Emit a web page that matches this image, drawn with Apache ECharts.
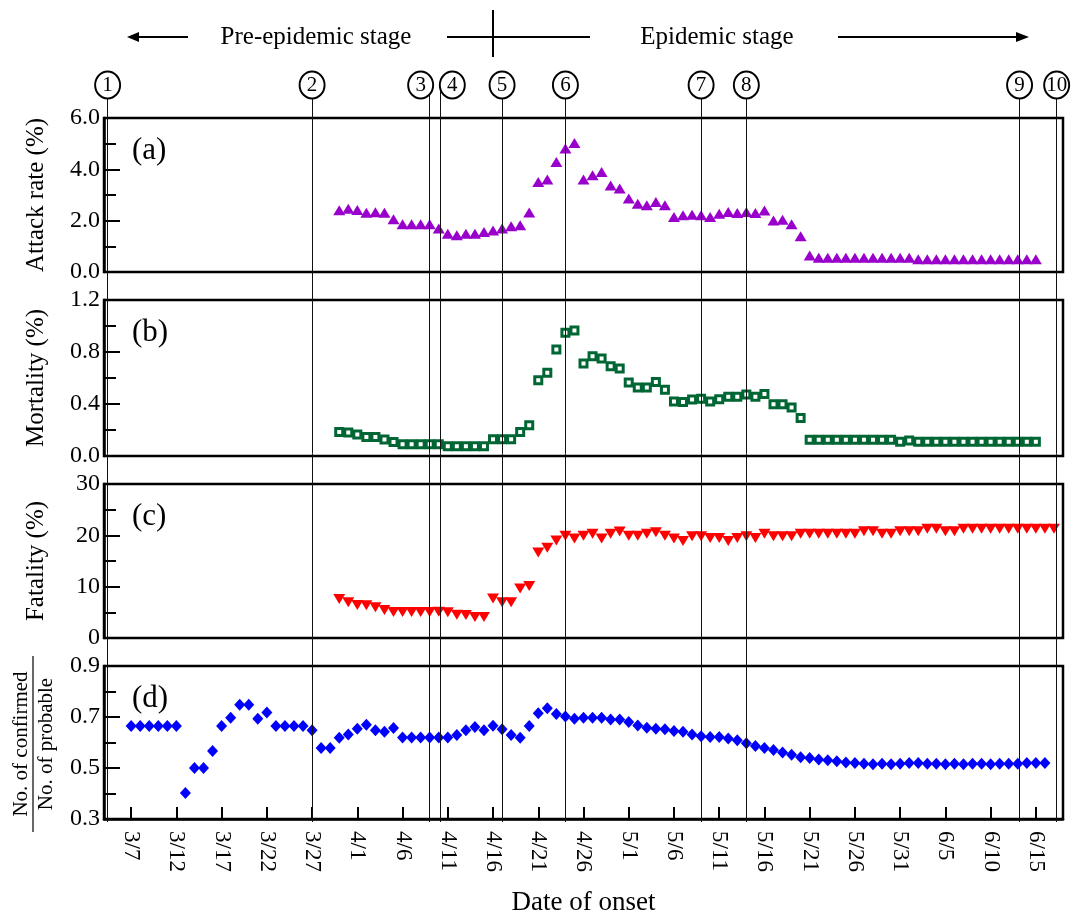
<!DOCTYPE html>
<html>
<head>
<meta charset="utf-8">
<script src="https://cdn.jsdelivr.net/npm/echarts@6/dist/echarts.min.js"></script>
<style>html,body{margin:0;padding:0;background:#fff;}#c{width:1072px;height:917px;}</style>
</head>
<body>
<div id="c"></div>
<script>
// ---- data (day 0 = 3/7) ----
const tickDays = [0,5,10,15,20,25,30,35,40,45,50,55,60,65,70,75,80,85,90,95,100];
const tickLabels = ['3/7','3/12','3/17','3/22','3/27','4/1','4/6','4/11','4/16','4/21','4/26','5/1','5/6','5/11','5/16','5/21','5/26','5/31','6/5','6/10','6/15'];

const attackStart = 23;
const attackRate = [2.41,2.46,2.42,2.31,2.33,2.31,2.06,1.86,1.86,1.86,1.86,1.69,1.49,1.43,1.49,1.49,1.56,1.62,1.69,1.78,1.82,2.32,3.51,3.6,4.29,4.81,5.03,3.6,3.77,3.9,3.37,3.25,2.86,2.66,2.6,2.73,2.6,2.14,2.21,2.23,2.21,2.14,2.27,2.34,2.3,2.34,2.3,2.4,2.01,2.04,1.86,1.39,0.64,
  0.56,0.56,0.56,0.56,0.56,0.56,0.56,0.56,0.56,0.56,0.56,
  0.5,0.5,0.5,0.5,0.5,0.5,0.5,0.5,0.5,0.5,0.5,0.5,0.5,0.5];

const mortalityStart = 23;
const mortality = [0.185,0.18,0.165,0.146,0.146,0.126,0.108,0.09,0.09,0.09,0.09,0.09,0.075,0.075,0.075,0.075,0.075,0.129,0.129,0.129,0.185,0.237,0.583,0.64,0.82,0.948,0.966,0.712,0.768,0.75,0.69,0.673,0.565,0.527,0.527,0.57,0.51,0.42,0.416,0.434,0.44,0.42,0.436,0.455,0.455,0.473,0.455,0.476,0.398,0.398,0.373,0.293,
  0.125,0.125,0.125,0.125,0.125,0.125,0.125,0.125,0.125,0.125,0.11,0.12,
  0.11,0.11,0.11,0.11,0.11,0.11,0.11,0.11,0.11,0.11,0.11,0.11,0.11,0.11];

const fatalityStart = 23;
const fatality = [7.6,6.97,6.45,6.4,6.0,5.47,5.08,5.08,5.08,5.08,5.08,5.1,5.0,4.53,4.5,4.1,4.1,7.68,6.97,6.97,9.64,10.12,16.67,17.57,18.97,19.9,19.4,19.9,20.3,19.4,20.3,20.77,19.9,19.9,20.3,20.6,19.9,19.4,18.9,19.8,19.8,19.5,19.5,18.9,19.5,19.8,19.5,20.3,19.8,19.8,19.8,20.3,20.3,20.3,20.3,20.3,20.3,20.3,20.8,20.8,20.3,20.3,20.8,20.8,20.8,21.3,21.3,20.8,20.8,
  21.3,21.3,21.3,21.3,21.3,21.3,21.3,21.3,21.3,21.3,21.3];

const ratioStart = 0;
const ratio = [0.665,0.665,0.665,0.665,0.665,0.665,0.402,0.5,0.5,0.567,0.665,0.697,0.748,0.748,0.693,0.718,0.665,0.665,0.665,0.665,0.648,0.578,0.578,0.619,0.631,0.654,0.67,0.648,0.642,0.657,0.62,0.62,0.62,0.62,0.62,0.62,0.629,0.648,0.661,0.648,0.666,0.652,0.629,0.619,0.665,0.715,0.734,0.712,0.702,0.693,0.697,0.697,0.697,0.69,0.69,0.68,0.667,0.658,0.654,0.652,0.645,0.642,0.631,0.625,0.622,0.622,0.616,0.609,0.597,0.586,0.578,0.571,0.561,0.552,0.542,0.539,0.533,0.53,0.526,0.522,0.52,
  0.517,0.515,0.517,0.515,0.517,0.52,0.52,0.517,0.517,0.515,0.517,0.515,0.517,0.517,0.515,0.517,0.517,0.517,0.52,0.52,0.52];

const eventDays = [-2.6,20,33,34.2,41,48,63,68,98.2,102.3];
const eventLabelDays = [-2.6,20,32,35.5,41,48,63,68,98.2,102.3];
const eventLabels = ['1','2','3','4','5','6','7','8','9','10'];
const panelLabels = ['(a)','(b)','(c)','(d)'];
const yNames = ['Attack rate (%)','Mortality (%)','Fatality (%)'];

// ---- chart ----
const FONT = "'Liberation Serif','Times New Roman',serif";
const toPairs = (start, arr) => arr.map((v,i)=>[start+i, v]);
const chart = echarts.init(document.getElementById('c'), null, {renderer:'canvas'});

const gridTops = [118, 300, 484, 666];
const gridHeights = [154, 156, 154, 156];
const grids = gridTops.map((t,i)=>({left:104, right:9, top:t, height:gridHeights[i], show:true, borderColor:'#000', borderWidth:2.5, backgroundColor:'transparent'}));
grids.push({left:104, right:9, top:85, bottom:95, show:false});

const xBase = {type:'value', min:-3, max:103, splitLine:{show:false}, axisLine:{show:false, onZero:false}, axisTick:{show:false}, axisLabel:{show:false}};
const xAxes = [0,1,2].map(i=>Object.assign({}, xBase, {gridIndex:i}));
xAxes.push(Object.assign({}, xBase, {
  gridIndex:3,
  axisLine:{show:true, onZero:false, lineStyle:{color:'#000', width:2.5}},
  axisTick:{show:true, inside:true, length:12, customValues:tickDays, lineStyle:{color:'#000', width:2}},
  axisLabel:{show:true, rotate:-90, margin:12, customValues:tickDays, fontFamily:FONT, fontSize:23, color:'#000',
    formatter:function(v){const k=tickDays.indexOf(Math.round(v)); return k>=0?tickLabels[k]:'';}},
  name:'Date of onset', nameLocation:'middle', nameGap:70,
  nameTextStyle:{fontFamily:FONT, fontSize:27, color:'#000', verticalAlign:'top'}
}));
xAxes.push(Object.assign({}, xBase, {gridIndex:4}));

function yAx(i, min, max, interval, dec, name){
  return {
    type:'value', gridIndex:i, min:min, max:max, interval:interval,
    splitLine:{show:false},
    axisLine:{show:true, onZero:false, lineStyle:{color:'#000', width:2.5}},
    axisTick:{show:true, inside:true, length:16, lineStyle:{color:'#000', width:2}},
    minorTick:{show:true, splitNumber:2, length:12, lineStyle:{color:'#000', width:2}},
    axisLabel:{fontFamily:FONT, fontSize:24, color:'#000', margin:4, formatter:v=>v.toFixed(dec)},
    name:name||'', nameLocation:'middle', nameGap:55,
    nameTextStyle:{fontFamily:FONT, fontSize:25, color:'#000'}
  };
}
const yAxes = [
  yAx(0, 0, 6, 2, 1, yNames[0]),
  yAx(1, 0, 1.2, 0.4, 1, yNames[1]),
  yAx(2, 0, 30, 10, 0, yNames[2]),
  yAx(3, 0.3, 0.9, 0.2, 1, ''),
  {type:'value', gridIndex:4, min:0, max:1, show:false}
];

const series = [
  {type:'scatter', xAxisIndex:4, yAxisIndex:4, data:[], z:1, silent:true,
   markLine:{silent:true, symbol:'none', label:{show:false}, lineStyle:{color:'#111', width:1, type:'solid'},
     animation:false, data:eventDays.map(d=>({xAxis:d}))}},
  {type:'scatter', xAxisIndex:4, yAxisIndex:4, z:6,
   data:eventLabelDays.map((d,i)=>({value:[d,1], name:eventLabels[i]})),
   symbol:'circle', symbolSize:[25,27],
   itemStyle:{color:'#fff', borderColor:'#000', borderWidth:2, opacity:1},
   label:{show:true, position:'inside', formatter:p=>p.name, fontFamily:FONT, fontSize:21, color:'#000'}},
  {type:'scatter', xAxisIndex:0, yAxisIndex:0, z:3, data:toPairs(attackStart, attackRate),
   symbol:'triangle', symbolSize:[12,10], itemStyle:{color:'#9900cc', opacity:1}},
  {type:'scatter', xAxisIndex:1, yAxisIndex:1, z:3, data:toPairs(mortalityStart, mortality),
   symbol:'rect', symbolSize:7, itemStyle:{color:'#fff', borderColor:'#006633', borderWidth:3, opacity:1}},
  {type:'scatter', xAxisIndex:2, yAxisIndex:2, z:3, data:toPairs(fatalityStart, fatality),
   symbol:'triangle', symbolRotate:180, symbolSize:[12,10], itemStyle:{color:'#ff0000', opacity:1}},
  {type:'scatter', xAxisIndex:3, yAxisIndex:3, z:3, data:toPairs(ratioStart, ratio),
   symbol:'diamond', symbolSize:[11,12], itemStyle:{color:'#0000ff', opacity:1}}
];

const graphics = [];
panelLabels.forEach((t,i)=>{
  graphics.push({type:'text', left:132, top:gridTops[i]+17, style:{text:t, fontFamily:FONT, fontSize:31, fill:'#000'}});
});
// fraction axis name for panel (d)
graphics.push({type:'text', x:21, y:744, rotation:Math.PI/2, style:{text:'No. of confirmed', x:0, y:0, align:'center', verticalAlign:'middle', fontFamily:FONT, fontSize:21, fill:'#000'}});
graphics.push({type:'line', shape:{x1:33, y1:656, x2:33, y2:832}, style:{stroke:'#000', lineWidth:1.2}});
graphics.push({type:'text', x:46, y:744, rotation:Math.PI/2, style:{text:'No. of probable', x:0, y:0, align:'center', verticalAlign:'middle', fontFamily:FONT, fontSize:21, fill:'#000'}});
// stage annotations
graphics.push({type:'text', x:316, y:37, style:{text:'Pre-epidemic stage', x:0, y:0, align:'center', verticalAlign:'middle', fontFamily:FONT, fontSize:25, fill:'#000'}});
graphics.push({type:'text', x:717, y:37, style:{text:'Epidemic stage', x:0, y:0, align:'center', verticalAlign:'middle', fontFamily:FONT, fontSize:25, fill:'#000'}});
graphics.push({type:'line', shape:{x1:136, y1:37, x2:188, y2:37}, style:{stroke:'#000', lineWidth:2}});
graphics.push({type:'polygon', shape:{points:[[127,37],[139,32],[139,42]]}, style:{fill:'#000'}});
graphics.push({type:'line', shape:{x1:447, y1:37, x2:590, y2:37}, style:{stroke:'#000', lineWidth:2}});
graphics.push({type:'line', shape:{x1:493, y1:10, x2:493, y2:57}, style:{stroke:'#000', lineWidth:2}});
graphics.push({type:'line', shape:{x1:838, y1:37, x2:1018, y2:37}, style:{stroke:'#000', lineWidth:2}});
graphics.push({type:'polygon', shape:{points:[[1029,37],[1016,32],[1016,42]]}, style:{fill:'#000'}});

chart.setOption({
  animation:false,
  backgroundColor:'#fff',
  grid:grids, xAxis:xAxes, yAxis:yAxes, series:series, graphic:graphics
});
</script>
</body>
</html>
